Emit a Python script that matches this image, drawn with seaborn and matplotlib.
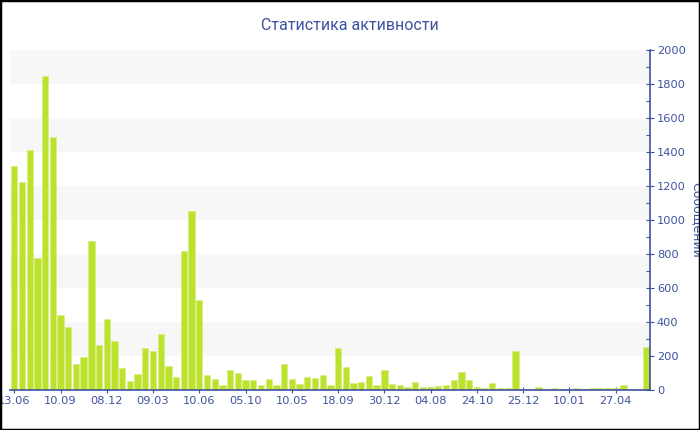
import matplotlib
matplotlib.use("Agg")
import matplotlib.pyplot as plt
import seaborn as sns
import pandas as pd
from matplotlib.patches import Rectangle

# Messages per period
messages = [
    1319, 1225, 1410, 776, 1845, 1490, 443, 373, 153, 192,
    875, 263, 420, 290, 127, 53, 92, 245, 227, 331,
    141, 78, 818, 1051, 527, 90, 65, 29, 118, 102,
    59, 59, 29, 63, 31, 153, 63, 33, 76, 71,
    86, 29, 245, 135, 43, 49, 80, 29, 120, 35,
    29, 18, 49, 16, 16, 22, 29, 57, 108, 57,
    16, 10, 39, 10, 10, 229, 6, 6, 16, 6,
    10, 6, 6, 10, 6, 10, 10, 10, 10, 29,
    6, 6, 255,
]
tick_labels = ["13.06", "10.09", "08.12", "09.03", "10.06", "05.10", "10.05",
               "18.09", "30.12", "04.08", "24.10", "25.12", "10.01", "27.04"]
tick_every = 6

title = "Статистика активности"
y_label = "Сообщений"

BLUE = "#3d539f"
GREEN = "#bde22e"

sns.set_style("white")
plt.rcParams["font.family"] = ["DejaVu Sans"]

df = pd.DataFrame({"period": list(range(len(messages))), "messages": messages})

fig = plt.figure(figsize=(7, 4.3), dpi=100)
ax = fig.add_axes([10 / 700, 40 / 430, 640 / 700, 340 / 430])

# alternating light bands behind the bars
for y0 in range(200, 2000, 400):
    ax.axhspan(y0, y0 + 200, color="#f7f7f7", zorder=0, lw=0)

sns.barplot(data=df, x="period", y="messages", color=GREEN, saturation=1,
            width=0.82, edgecolor="#d6ee80", linewidth=0.5, ax=ax, zorder=2)

ax.set_xlim(-0.55, len(messages) - 0.55)
ax.set_ylim(0, 2000)

ax.set_xticks(range(0, len(messages), tick_every), tick_labels)
ax.set_yticks(range(0, 2001, 200))
ax.set_yticks(range(100, 2000, 200), minor=True)

ax.yaxis.tick_right()
ax.yaxis.set_label_position("right")
ax.tick_params(axis="y", which="major", direction="inout", length=6, width=0.8,
               color=BLUE, labelcolor=BLUE, labelsize=8.2, pad=2, right=True, left=False)
ax.tick_params(axis="y", which="minor", direction="in", length=3, width=0.8,
               color=BLUE, right=True, left=False)
ax.tick_params(axis="x", direction="inout", length=5, width=0.8,
               color=BLUE, labelcolor=BLUE, labelsize=8.2, pad=2, bottom=True)

for side in ["left", "top"]:
    ax.spines[side].set_visible(False)
for side in ["right", "bottom"]:
    ax.spines[side].set_color(BLUE)
    ax.spines[side].set_linewidth(1.2)

ax.set_xlabel("")
ax.set_ylabel(y_label, color=BLUE, fontsize=9, rotation=270, va="center")
ax.yaxis.set_label_coords(1.072, 0.5)

fig.text(0.5, 1 - 25 / 430, title, ha="center", va="center",
         color=BLUE, fontsize=11.5, family=["Roboto", "DejaVu Sans"])

# black frame around the whole chart
fig.add_artist(Rectangle((0, 0), 1, 1, transform=fig.transFigure,
                         fill=False, edgecolor="black", linewidth=2.5))

fig.savefig("out.png", dpi=100)
plt.close(fig)
